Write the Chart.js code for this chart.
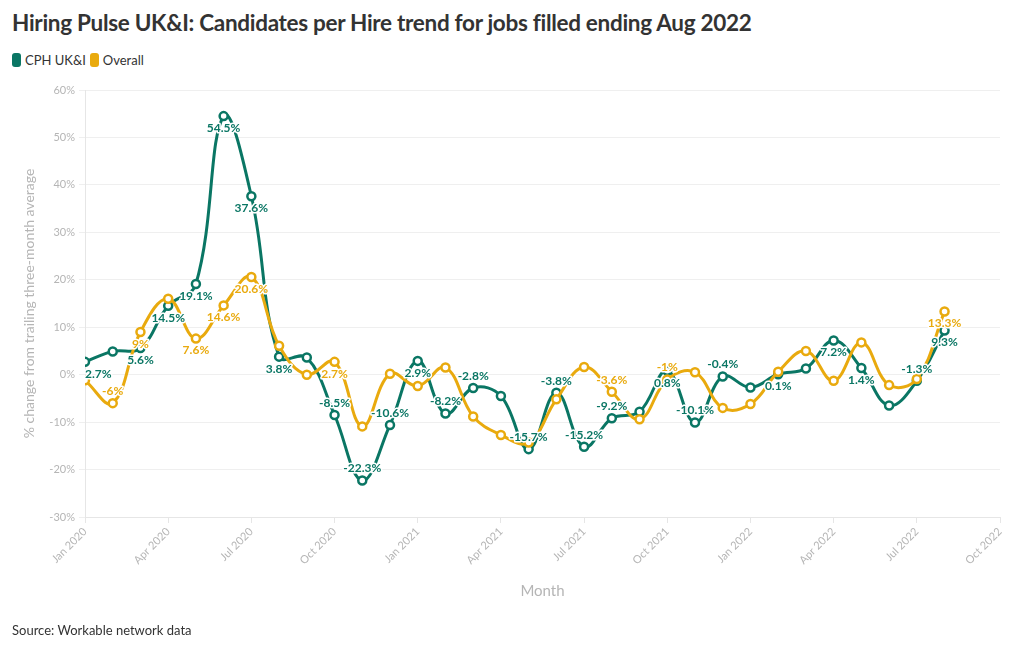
<!DOCTYPE html>
<html>
<head>
<meta charset="utf-8">
<script src="https://cdn.jsdelivr.net/npm/chart.js@4"></script>
<style>
  body { margin: 0; background: #fff; font-family: Lato, "Noto Sans", sans-serif; }
  #wrap { position: relative; width: 1020px; height: 650px; overflow: hidden; }
  #title { position: absolute; left: 12px; top: 9px; font-size: 22.5px; font-weight: bold; color: #333; white-space: nowrap; letter-spacing: -0.3px; }
  #legend { position: absolute; left: 12px; top: 52px; font-size: 13px; color: #333; display: flex; align-items: center; }
  #legend span.sw { display: inline-block; width: 9px; height: 14px; border-radius: 3px; margin-right: 4px; }
  #legend span.lb { margin-right: 4px; }
  #source { position: absolute; left: 12px; top: 622px; font-size: 13px; color: #333; }
  canvas { position: absolute; left: 0; top: 0; }
</style>
</head>
<body>
<div id="wrap">
  <div id="title">Hiring Pulse UK&amp;I: Candidates per Hire trend for jobs filled ending Aug 2022</div>
  <div id="legend">
    <span class="sw" style="background:#0a7664"></span><span class="lb">CPH UK&amp;I</span>
    <span class="sw" style="background:#e9aa0e"></span><span class="lb">Overall</span>
  </div>
  <canvas id="chart" width="1020" height="650"></canvas>
  <div id="source">Source: Workable network data</div>
</div>
<script>
// months since Jan 2020
const months = [0, 1, 2, 3, 4, 5, 6, 7, 8, 9, 10, 11, 12, 13, 14, 15,
  16, 17, 18, 19, 20, 21, 22, 23, 24, 25, 26, 27, 28, 29, 30, 31];

const cphUKI = [2.7, 4.9, 5.6, 14.5, 19.1, 54.5, 37.6, 3.8, 3.6, -8.5, -22.3, -10.6,
  2.9, -8.2, -2.8, -4.5, -15.7, -3.8, -15.2, -9.2, -7.8, 0.8, -10.1, -0.4,
  -2.7, 0.1, 1.3, 7.2, 1.4, -6.5, -1.3, 9.3];

const overall = [-1.2, -6, 9, 16, 7.6, 14.6, 20.6, 6.1, 0, 2.7, -10.9, 0.2,
  -2.4, 1.5, -8.8, -12.7, -14.3, -5.2, 1.6, -3.6, -9.4, -1, 0.5, -7,
  -6.2, 0.6, 5, -1.3, 6.8, -2.2, -0.9, 13.3];

// which points carry a value label
const cphLabelled = [1, 0, 1, 1, 1, 1, 1, 1, 0, 1, 1, 1,
  1, 1, 1, 0, 1, 1, 1, 1, 0, 1, 1, 1,
  0, 1, 0, 1, 1, 0, 1, 1];
const overallLabelled = [0, 1, 1, 0, 1, 1, 1, 0, 0, 1, 0, 0,
  0, 0, 0, 0, 0, 0, 0, 1, 0, 1, 0, 0,
  0, 0, 0, 0, 0, 0, 0, 1];

const xTickLabels = ["Jan 2020", "Apr 2020", "Jul 2020", "Oct 2020", "Jan 2021", "Apr 2021",
  "Jul 2021", "Oct 2021", "Jan 2022", "Apr 2022", "Jul 2022", "Oct 2022"];

const TEAL = "#0a7664";
const AMBER = "#e9aa0e";
const GREY = "#b5b5b5";
const FONT = "Lato, 'Noto Sans', sans-serif";

function series(vals) {
  return vals.map((v, i) => ({ x: months[i], y: v }));
}

const valueLabels = {
  id: "valueLabels",
  afterDatasetsDraw(chart) {
    const ctx = chart.ctx;
    const area = chart.chartArea;
    ctx.save();
    ctx.font = "bold 12px " + FONT;
    ctx.textBaseline = "middle";
    ctx.lineJoin = "round";
    chart.data.datasets.forEach((ds, di) => {
      const meta = chart.getDatasetMeta(di);
      meta.data.forEach((pt, i) => {
        if (!ds.labelled[i]) return;
        const v = ds.data[i].y;
        const txt = v + "%";
        const w = ctx.measureText(txt).width;
        let x = pt.x;
        if (x - w / 2 < area.left) x = area.left + w / 2;
        const y = v >= 0 ? pt.y + 12 : pt.y - 12;
        ctx.textAlign = "center";
        ctx.strokeStyle = "#fff";
        ctx.lineWidth = 3;
        ctx.strokeText(txt, x, y);
        ctx.fillStyle = ds.borderColor;
        ctx.fillText(txt, x, y);
      });
    });
    ctx.restore();
  }
};

function lineSet(label, vals, labelled, color) {
  return {
    label: label,
    data: series(vals),
    labelled: labelled,
    borderColor: color,
    backgroundColor: "#fff",
    pointBackgroundColor: "#fff",
    pointBorderColor: color,
    pointBorderWidth: 2.5,
    pointRadius: 4,
    borderWidth: 3,
    tension: 0.4
  };
}

new Chart(document.getElementById("chart"), {
  type: "line",
  data: {
    datasets: [
      lineSet("Overall", overall, overallLabelled, AMBER),
      lineSet("CPH UK&I", cphUKI, cphLabelled, TEAL)
    ]
  },
  plugins: [valueLabels],
  options: {
    responsive: false,
    animation: false,
    layout: { padding: { top: 90, right: 20, bottom: 46, left: 0 } },
    plugins: {
      legend: { display: false },
      tooltip: { enabled: false }
    },
    scales: {
      x: {
        type: "linear",
        min: 0,
        max: 33,
        afterFit: s => { s.height = 87; },
        afterBuildTicks: s => {
          s.ticks = xTickLabels.map((_, i) => ({ value: i * 3 }));
        },
        ticks: {
          color: GREY,
          font: { family: FONT, size: 11 },
          minRotation: 45,
          maxRotation: 45,
          padding: 2,
          callback: v => xTickLabels[v / 3]
        },
        grid: { drawOnChartArea: false, color: "#e6e6e6", tickLength: 6 },
        border: { color: "#e6e6e6" },
        title: {
          display: true,
          text: "Month",
          color: GREY,
          font: { family: FONT, size: 15 },
          padding: { top: 4, bottom: 4 }
        }
      },
      y: {
        min: -30,
        max: 60,
        afterFit: s => { s.width = 85; },
        ticks: {
          stepSize: 10,
          color: GREY,
          font: { family: FONT, size: 11 },
          padding: 4,
          callback: v => v + "%"
        },
        grid: { color: "#efefef", tickLength: 6 },
        border: { color: "#e6e6e6" },
        title: {
          display: true,
          text: "% change from trailing three-month average",
          color: GREY,
          font: { family: FONT, size: 14 },
          padding: { top: 21, bottom: 0 }
        }
      }
    }
  }
});
</script>
</body>
</html>
